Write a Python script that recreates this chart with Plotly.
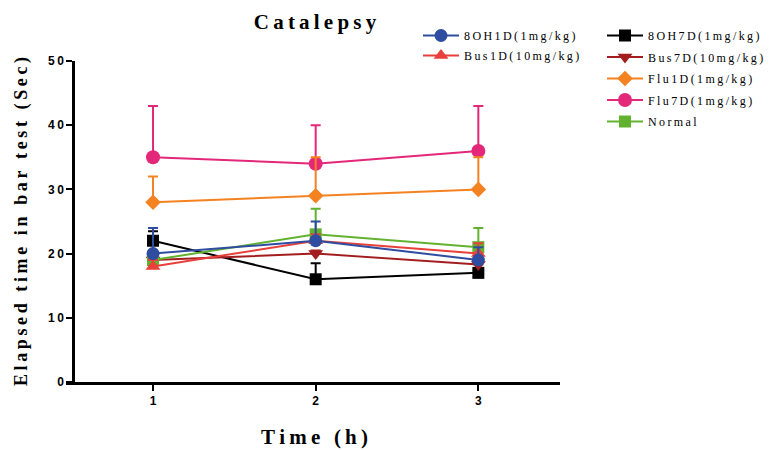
import plotly.graph_objects as go

# ---- data ----
times = [1, 2, 3]
series_names = ["8OH1D(1mg/kg)", "Bus1D(10mg/kg)", "8OH7D(1mg/kg)", "Bus7D(10mg/kg)",
                "Flu1D(1mg/kg)", "Flu7D(1mg/kg)", "Normal"]
oh1d = [20, 22, 19]
oh1d_err = [4, 3, 2]
bus1d = [18, 22, 20]
bus1d_err = [1, 1, 1.6]
oh7d = [22, 16, 17]
oh7d_err = [1.5, 2.5, 0.5]
bus7d = [19, 20, 18.3]
bus7d_err = [0.5, 0.5, 0.5]
flu1d = [28, 29, 30]
flu1d_err = [4, 6, 5]
flu7d = [35, 34, 36]
flu7d_err = [8, 6, 7]
normal = [19, 23, 21]
normal_err = [1, 4, 3]

y_ticks = [0, 10, 20, 30, 40, 50]
x_ticks = [1, 2, 3]

SP = "\u2009"
def spaced(s):
    return SP.join(list(s))

SERIF = "Liberation Serif, Times New Roman, serif"
SANS = "Liberation Sans, Arial, sans-serif"

# plot area in pixels
L, R, T, B = 66, 560, 61, 382
PW, PH = R - L, B - T

styles = {
    "8OH1D(1mg/kg)": dict(color="#2E4DA0", symbol="circle", size=13, legend="legend"),
    "Bus1D(10mg/kg)": dict(color="#E8403A", symbol="triangle-up", size=13, legend="legend"),
    "8OH7D(1mg/kg)": dict(color="#000000", symbol="square", size=12, legend="legend2"),
    "Bus7D(10mg/kg)": dict(color="#A31D1F", symbol="triangle-down", size=13, legend="legend2"),
    "Flu1D(1mg/kg)": dict(color="#F58220", symbol="diamond", size=12, legend="legend2"),
    "Flu7D(1mg/kg)": dict(color="#E3287A", symbol="circle", size=14, legend="legend2"),
    "Normal": dict(color="#62B22F", symbol="square", size=12, legend="legend2"),
}
vals = {
    "8OH1D(1mg/kg)": (oh1d, oh1d_err),
    "Bus1D(10mg/kg)": (bus1d, bus1d_err),
    "8OH7D(1mg/kg)": (oh7d, oh7d_err),
    "Bus7D(10mg/kg)": (bus7d, bus7d_err),
    "Flu1D(1mg/kg)": (flu1d, flu1d_err),
    "Flu7D(1mg/kg)": (flu7d, flu7d_err),
    "Normal": (normal, normal_err),
}
draw_order = ["Flu7D(1mg/kg)", "Flu1D(1mg/kg)", "8OH7D(1mg/kg)", "Bus7D(10mg/kg)",
              "Normal", "Bus1D(10mg/kg)", "8OH1D(1mg/kg)"]
rank = {n: i for i, n in enumerate(series_names)}

fig = go.Figure()
for name in draw_order:
    st = styles[name]
    y, e = vals[name]
    fig.add_trace(go.Scatter(
        x=times, y=y, name=spaced(name), mode="lines+markers",
        line=dict(color=st["color"], width=2),
        marker=dict(color=st["color"], symbol=st["symbol"], size=st["size"]),
        error_y=dict(type="data", array=e, arrayminus=[0] * len(e), symmetric=False,
                     color=st["color"], thickness=2, width=5),
        legend=st["legend"], legendrank=rank[name], legendgroup=name,
    ))

def px_x(px):
    return (px - L) / PW

def px_y(py):
    return (B - py) / PH

leg_font = dict(family=SERIF, size=12, color="black")

fig.update_layout(
    width=769, height=450,
    margin=dict(l=L, r=769 - R, t=T, b=450 - B, autoexpand=False),
    plot_bgcolor="white", paper_bgcolor="white",
    showlegend=True,
    title=dict(text=spaced("Catalepsy"), x=315 / 769, xanchor="center", y=1 - 22 / 450,
               yanchor="middle", font=dict(family=SERIF, size=21, color="black", weight="bold")),
    xaxis=dict(range=[0.465, 3.502], tickvals=x_ticks, ticktext=[spaced(str(t)) for t in x_ticks],
               showline=True, linecolor="black", linewidth=2.5, ticks="outside", ticklen=6,
               tickwidth=2, tickcolor="black", showgrid=False, zeroline=False,
               tickfont=dict(family=SANS, size=12, color="black", weight="bold")),
    yaxis=dict(range=[0, 50], tickvals=y_ticks, ticktext=[spaced(str(t)) for t in y_ticks],
               anchor="free", position=7 / PW,
               showline=True, linecolor="black", linewidth=2.5, ticks="outside", ticklen=6,
               tickwidth=2, tickcolor="black", showgrid=False, zeroline=False,
               tickfont=dict(family=SANS, size=12, color="black", weight="bold")),
    legend=dict(x=px_x(418), y=px_y(21), xanchor="left", yanchor="top",
                font=leg_font, bgcolor="rgba(0,0,0,0)",
                traceorder="grouped", itemwidth=36, tracegroupgap=1),
    legend2=dict(x=px_x(602), y=px_y(21), xanchor="left", yanchor="top",
                 font=leg_font, bgcolor="rgba(0,0,0,0)",
                 traceorder="grouped", itemwidth=36, tracegroupgap=2.5),
    annotations=[
        dict(text=spaced("Time (h)"), x=px_x(314), y=px_y(437), xref="paper", yref="paper",
             xanchor="center", yanchor="middle", showarrow=False,
             font=dict(family=SERIF, size=21, color="black", weight="bold")),
        dict(text=spaced("Elapsed time in bar test (Sec)"), x=px_x(22), y=px_y(222),
             xref="paper", yref="paper", xanchor="center", yanchor="middle", showarrow=False,
             textangle=-90, font=dict(family=SERIF, size=18, color="black", weight="bold")),
    ],
)

fig.write_html("out.html")
